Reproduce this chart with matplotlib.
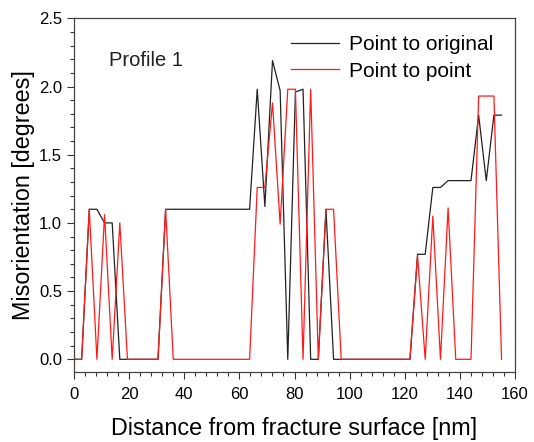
import matplotlib
matplotlib.use("Agg")
from matplotlib import pyplot as plt
from matplotlib.ticker import MultipleLocator

plt.rcParams['font.family'] = ['Liberation Sans', 'DejaVu Sans']

# distance along the profile [nm]
distance = [0, 2.77, 5.54, 8.31, 11.08, 13.85, 16.62, 19.39, 22.16, 24.93,
            27.7, 30.47, 33.24, 36.01, 38.78, 41.55, 44.32, 47.09, 49.86, 52.63,
            55.4, 58.17, 60.94, 63.71, 66.48, 69.25, 72.02, 74.79, 77.56, 80.33,
            83.1, 85.87, 88.64, 91.41, 94.18, 96.95, 99.72, 102.49, 105.26, 108.03,
            110.8, 113.57, 116.34, 119.11, 121.88, 124.65, 127.42, 130.19, 132.96, 135.73,
            138.5, 141.27, 144.04, 146.81, 149.58, 152.35, 155.12]

point_to_original = [0, 0, 1.1, 1.1, 1.0, 1.0, 0, 0, 0, 0,
                     0, 0, 1.1, 1.1, 1.1, 1.1, 1.1, 1.1, 1.1, 1.1,
                     1.1, 1.1, 1.1, 1.1, 1.98, 1.12, 2.19, 1.97, 0, 1.96,
                     1.98, 0, 0, 1.1, 0, 0, 0, 0, 0, 0,
                     0, 0, 0, 0, 0, 0.77, 0.77, 1.26, 1.26, 1.31,
                     1.31, 1.31, 1.31, 1.79, 1.31, 1.79, 1.79]

point_to_point = [0, 0, 1.1, 0, 1.06, 0, 1.0, 0, 0, 0,
                  0, 0, 1.1, 0, 0, 0, 0, 0, 0, 0,
                  0, 0, 0, 0, 1.26, 1.26, 1.88, 0.99, 1.98, 1.98,
                  0, 1.98, 0, 1.1, 1.1, 0, 0, 0, 0, 0,
                  0, 0, 0, 0, 0, 0.76, 0, 1.05, 0, 1.11,
                  0, 0, 0, 1.93, 1.93, 1.93, 0]

fig = plt.figure(figsize=(5.34, 4.42), dpi=100)
ax = fig.add_axes([0.1386, 0.159, 0.8258, 0.7996])

ax.plot(distance, point_to_original, color='#222222', lw=0.9, label='Point to original')
ax.plot(distance, point_to_point, color='#ff1a1a', lw=0.9, label='Point to point')

ax.set_xlim(0, 160)
ax.set_ylim(-0.091, 2.5)
ax.xaxis.set_major_locator(MultipleLocator(20))
ax.xaxis.set_minor_locator(MultipleLocator(4))
ax.yaxis.set_major_locator(MultipleLocator(0.5))
ax.yaxis.set_minor_locator(MultipleLocator(0.1))
ax.yaxis.set_major_formatter(matplotlib.ticker.FormatStrFormatter('%.1f'))
ax.tick_params(which='both', direction='out', top=False, right=False,
               labelsize=12, color='#333333', width=0.8)
ax.tick_params(which='major', length=5)
ax.tick_params(which='minor', length=3)
ax.tick_params(axis='x', which='major', pad=6)
for s in ax.spines.values():
    s.set_color('#444444')
    s.set_linewidth(0.9)

ax.set_xlabel('Distance from fracture surface [nm]', fontsize=16.8, labelpad=11)
ax.set_ylabel('Misorientation [degrees]', fontsize=16.8, labelpad=3)

ax.text(0.079, 0.88, 'Profile 1', transform=ax.transAxes, fontsize=14.5,
        va='center', ha='left', color='#222222')

leg = ax.legend(loc='upper right', bbox_to_anchor=(0.97, 0.975), frameon=False,
                fontsize=15, handlelength=2.3, handletextpad=0.5, labelspacing=0.35,
                borderaxespad=0.0)

fig.savefig('out.png', dpi=100)
